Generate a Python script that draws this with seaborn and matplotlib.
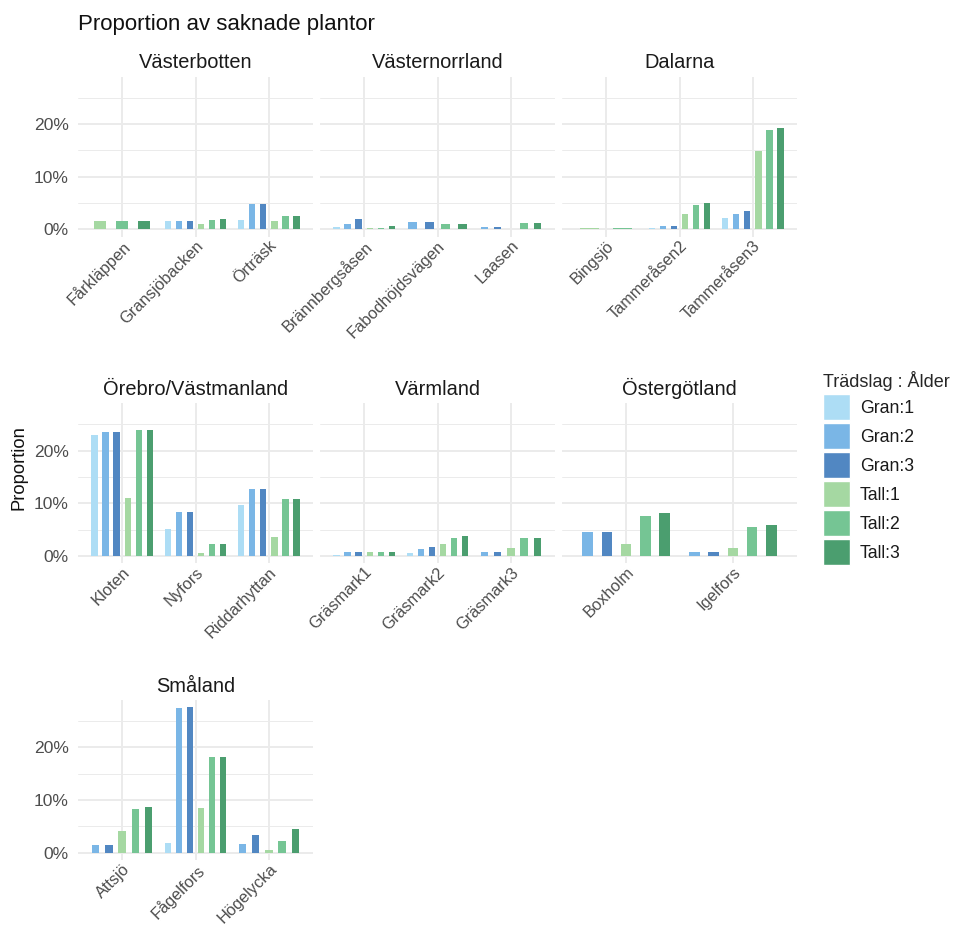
import numpy as np
import pandas as pd
import matplotlib
matplotlib.use("Agg")
import matplotlib.pyplot as plt
from matplotlib.patches import Patch
from matplotlib.ticker import FuncFormatter
import seaborn as sns

# ---- data: share of missing plants (percent) per site and species:age ----
regions = ["Västerbotten", "Västernorrland", "Dalarna",
           "Örebro/Västmanland", "Värmland", "Östergötland", "Småland"]

sites = ["Fårkläppen", "Gransjöbacken", "Örträsk",
         "Brännbergsåsen", "Fabodhöjdsvägen", "Laasen",
         "Bingsjö", "Tammeråsen2", "Tammeråsen3",
         "Kloten", "Nyfors", "Riddarhyttan",
         "Gräsmark1", "Gräsmark2", "Gräsmark3",
         "Boxholm", "Igelfors",
         "Attsjö", "Fågelfors", "Högelycka"]

site_region = ["Västerbotten"] * 3 + ["Västernorrland"] * 3 + ["Dalarna"] * 3 + \
              ["Örebro/Västmanland"] * 3 + ["Värmland"] * 3 + ["Östergötland"] * 2 + \
              ["Småland"] * 3

groups = ["Gran:1", "Gran:2", "Gran:3", "Tall:1", "Tall:2", "Tall:3"]

nan = np.nan
gran1 = [nan, 1.5, 1.8, 0.5, nan, nan, nan, 0.2, 2.2, 23.0, 5.1, 9.6,
         0.25, 0.55, nan, nan, nan, nan, 1.85, nan]
gran2 = [nan, 1.5, 4.9, 1.1, 1.4, 0.4, nan, 0.55, 2.85, 23.5, 8.4, 12.8,
         0.7, 1.4, 0.8, 4.55, 0.7, 1.4, 27.4, 1.6]
gran3 = [nan, 1.5, 4.9, 1.9, 1.4, 0.4, nan, 0.6, 3.4, 23.5, 8.4, 12.8,
         0.7, 1.7, 0.8, 4.55, 0.7, 1.4, 27.6, 3.4]
tall1 = [1.65, 1.1, 1.5, 0.2, nan, 0.15, 0.3, 3.0, 14.8, 11.0, 0.6, 3.7,
         0.8, 2.35, 1.5, 2.35, 1.6, 4.1, 8.5, 0.5]
tall2 = [1.65, 1.7, 2.5, 0.25, 0.95, 1.15, 0.3, 4.6, 18.9, 23.9, 2.3, 10.9,
         0.8, 3.4, 3.4, 7.6, 5.5, 8.25, 18.2, 2.2]
tall3 = [1.65, 2.0, 2.5, 0.7, 0.95, 1.15, nan, 5.0, 19.2, 23.9, 2.3, 10.9,
         0.8, 3.8, 3.4, 8.1, 5.8, 8.6, 18.2, 4.45]

palette = ["#ADDDF5", "#7AB6E6", "#5187C2", "#A5D8A2", "#75C594", "#4B9E6F"]

df = pd.DataFrame({"Lokal": sites, "Region": site_region,
                   "Gran:1": gran1, "Gran:2": gran2, "Gran:3": gran3,
                   "Tall:1": tall1, "Tall:2": tall2, "Tall:3": tall3})
long = df.melt(id_vars=["Lokal", "Region"], var_name="Grupp",
               value_name="Andel").dropna()

# ---- style ----
sns.set_theme(style="white")
plt.rcParams["font.family"] = ["Liberation Sans", "DejaVu Sans"]

W, H = 955, 925
fig = plt.figure(figsize=(W / 100, H / 100), dpi=100)


def px_axes(left, top, w, h):
    return fig.add_axes([left / W, 1 - (top + h) / H, w / W, h / H])


col_left = [78, 320, 562]
row_top = [76.6, 403.3, 700]
pw, ph = 235, 160

ymax = long["Andel"].max()
ylim = (-0.05 * ymax, ymax * 1.05)
dodge_w, bar_w = 0.9, 0.5
color_of = dict(zip(groups, palette))
grid_c = "#EBEBEB"

for i, region in enumerate(regions):
    r, c = divmod(i, 3)
    ax = px_axes(col_left[c], row_top[r], pw, ph)
    cats = [s for s, g in zip(sites, site_region) if g == region]
    sub = long[long["Region"] == region]
    for ci, site in enumerate(cats):
        rows = sub[sub["Lokal"] == site].copy()
        rows["order"] = rows["Grupp"].map(groups.index)
        rows = rows.sort_values("order")
        n = len(rows)
        for k, (_, row) in enumerate(rows.iterrows()):
            xpos = ci + dodge_w * ((k + 0.5) / n - 0.5)
            ax.bar(xpos, row["Andel"], width=bar_w / n,
                   color=color_of[row["Grupp"]], linewidth=0, zorder=3)
    ax.set_xlim(-0.6, len(cats) - 0.4)
    ax.set_ylim(*ylim)
    ax.set_xticks(range(len(cats)))
    ax.set_xticklabels(cats, rotation=45, ha="right", va="top",
                       rotation_mode="anchor", fontsize=11.8, color="#4D4D4D")
    ax.set_yticks([0, 10, 20])
    ax.set_yticks([5, 15, 25], minor=True)
    ax.yaxis.set_major_formatter(FuncFormatter(lambda v, p: f"{v:.0f}%"))
    if c == 0:
        for lab in ax.get_yticklabels():
            lab.set_fontsize(12.6)
            lab.set_color("#4D4D4D")
    else:
        ax.set_yticklabels([])
    ax.tick_params(axis="both", which="both", length=0)
    ax.tick_params(axis="x", pad=1)
    ax.tick_params(axis="y", pad=6.5)
    ax.grid(True, which="major", color=grid_c, linewidth=1.4, zorder=0)
    ax.grid(True, which="minor", axis="y", color=grid_c, linewidth=0.7, zorder=0)
    ax.set_axisbelow(True)
    sns.despine(ax=ax, left=True, bottom=True)
    ax.set_facecolor("white")
    fig.text((col_left[c] + pw / 2) / W, 1 - (row_top[r] - 8.5) / H, region,
             ha="center", va="baseline", fontsize=14.4, color="#1A1A1A")

fig.text(78 / W, 1 - 30 / H, "Proportion av saknade plantor",
         ha="left", va="baseline", fontsize=16, color="#111111")
fig.text(19 / W, 1 - 468 / H, "Proportion", rotation=90,
         ha="center", va="center", fontsize=13.2, color="#111111")

handles = [Patch(facecolor=col, edgecolor="white", linewidth=1.0) for col in palette]
leg = fig.legend(handles, groups, loc="upper left",
                 bbox_to_anchor=(823 / W, 1 - 371 / H), frameon=False,
                 title="Trädslag : Ålder", title_fontsize=13, fontsize=12.7,
                 handlelength=1.53, handleheight=1.895, labelspacing=0.17,
                 handletextpad=0.57, borderpad=0, borderaxespad=0,
                 alignment="left")
for t in leg.get_texts():
    t.set_color("#1A1A1A")

fig.savefig("out.png", dpi=100, facecolor="white")
